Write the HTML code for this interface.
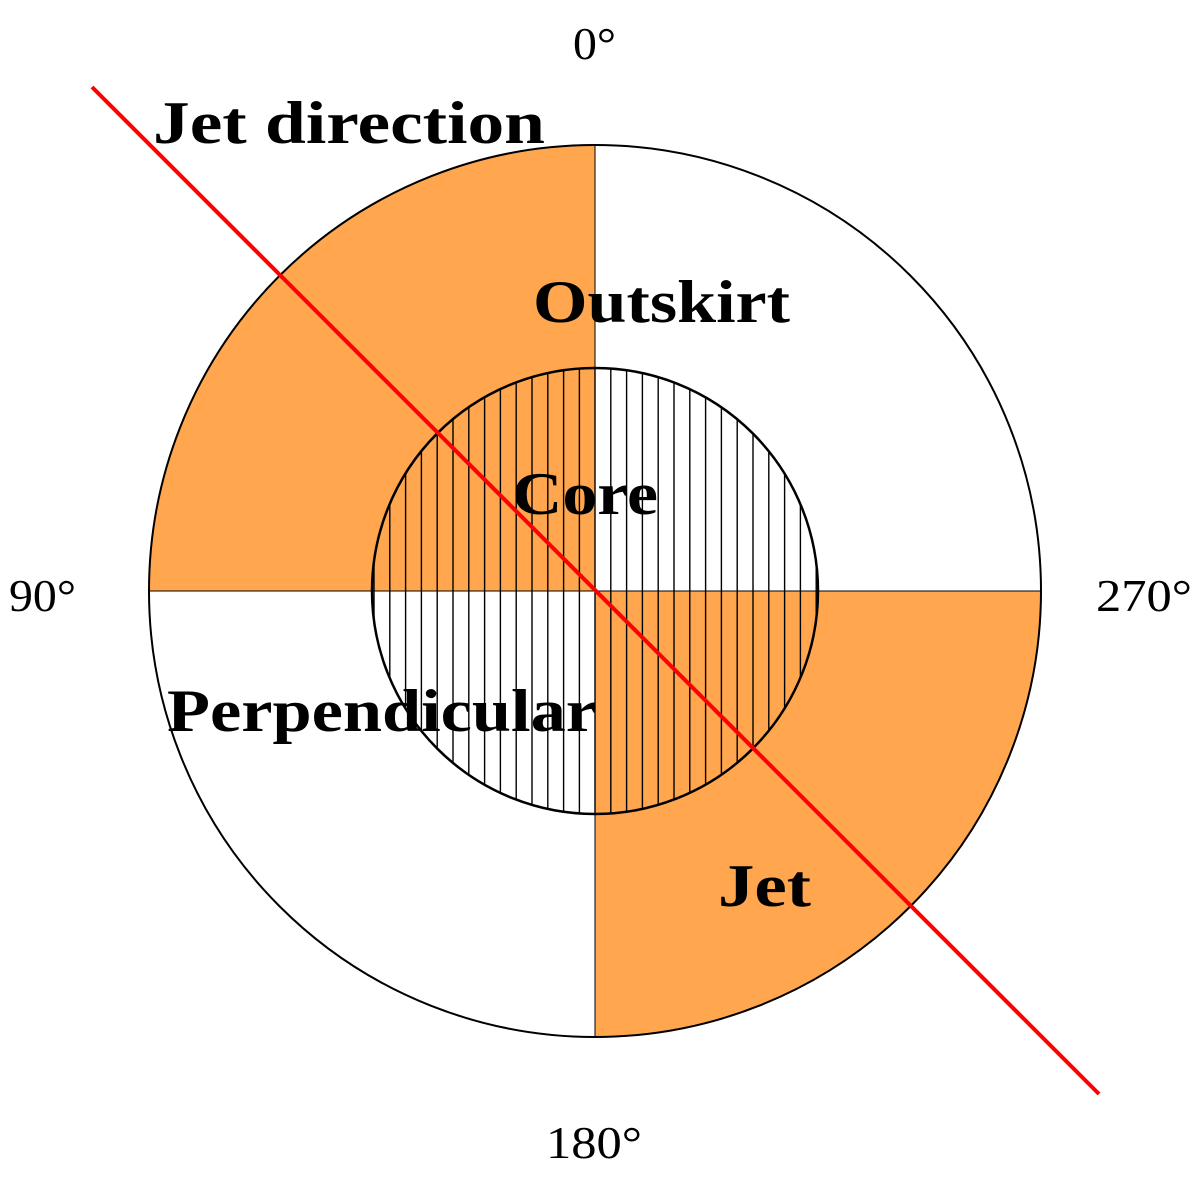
<!DOCTYPE html><html><head><style>body{margin:0;background:#fff}svg{display:block}</style></head><body>
<svg width="1200" height="1185" viewBox="0 0 1200 1185" xmlns="http://www.w3.org/2000/svg">
<defs><clipPath id="c"><circle cx="595" cy="591" r="223"/></clipPath></defs>
<path d="M595,591 L149,591 A446,446 0 0 1 595,145 Z" fill="#FFA64F"/>
<path d="M595,591 L1041,591 A446,446 0 0 1 595,1037 Z" fill="#FFA64F"/>
<circle cx="595" cy="591" r="446" fill="none" stroke="#000" stroke-width="2"/>
<line x1="149" y1="591" x2="1041" y2="591" stroke="#000" stroke-width="1"/>
<line x1="595" y1="145" x2="595" y2="1037" stroke="#000" stroke-width="1"/>
<g clip-path="url(#c)" stroke="#000" stroke-width="1.4">
<line x1="374" y1="360" x2="374" y2="820"/><line x1="389.8" y1="360" x2="389.8" y2="820"/><line x1="405.6" y1="360" x2="405.6" y2="820"/><line x1="421.4" y1="360" x2="421.4" y2="820"/><line x1="437.2" y1="360" x2="437.2" y2="820"/><line x1="453" y1="360" x2="453" y2="820"/><line x1="468.8" y1="360" x2="468.8" y2="820"/><line x1="484.6" y1="360" x2="484.6" y2="820"/><line x1="500.4" y1="360" x2="500.4" y2="820"/><line x1="516.2" y1="360" x2="516.2" y2="820"/><line x1="532" y1="360" x2="532" y2="820"/><line x1="547.8" y1="360" x2="547.8" y2="820"/><line x1="563.6" y1="360" x2="563.6" y2="820"/><line x1="579.4" y1="360" x2="579.4" y2="820"/><line x1="595" y1="360" x2="595" y2="820"/><line x1="610.8" y1="360" x2="610.8" y2="820"/><line x1="626.6" y1="360" x2="626.6" y2="820"/><line x1="642.4" y1="360" x2="642.4" y2="820"/><line x1="658.2" y1="360" x2="658.2" y2="820"/><line x1="674" y1="360" x2="674" y2="820"/><line x1="689.8" y1="360" x2="689.8" y2="820"/><line x1="705.6" y1="360" x2="705.6" y2="820"/><line x1="721.4" y1="360" x2="721.4" y2="820"/><line x1="737.2" y1="360" x2="737.2" y2="820"/><line x1="753" y1="360" x2="753" y2="820"/><line x1="768.8" y1="360" x2="768.8" y2="820"/><line x1="784.6" y1="360" x2="784.6" y2="820"/><line x1="800.4" y1="360" x2="800.4" y2="820"/><line x1="816.2" y1="360" x2="816.2" y2="820"/>
</g>
<circle cx="595" cy="591" r="223" fill="none" stroke="#000" stroke-width="2.5"/>
<line x1="92" y1="87" x2="1099" y2="1094" stroke="#f00" stroke-width="4"/>
<g font-family="Liberation Serif, serif" fill="#000">
<g font-weight="bold" font-size="60">
<text x="153" y="143" textLength="392" lengthAdjust="spacingAndGlyphs">Jet direction</text>
<text x="533" y="322" textLength="257" lengthAdjust="spacingAndGlyphs">Outskirt</text>
<text x="512" y="514" textLength="146" lengthAdjust="spacingAndGlyphs">Core</text>
<text x="167" y="731" textLength="430" lengthAdjust="spacingAndGlyphs">Perpendicular</text>
<text x="718" y="906" textLength="93" lengthAdjust="spacingAndGlyphs">Jet</text>
</g>
<g font-size="46">
<text x="573" y="59" textLength="43" lengthAdjust="spacingAndGlyphs">0°</text>
<text x="9" y="611" textLength="67" lengthAdjust="spacingAndGlyphs">90°</text>
<text x="1096" y="611" textLength="96" lengthAdjust="spacingAndGlyphs">270°</text>
<text x="546" y="1158" textLength="96" lengthAdjust="spacingAndGlyphs">180°</text>
</g></g>
</svg></body></html>
